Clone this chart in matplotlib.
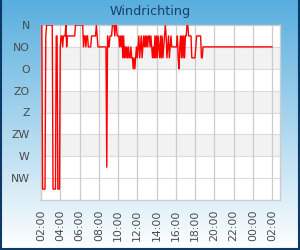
import matplotlib
matplotlib.use("Agg")
import matplotlib.pyplot as plt
import numpy as np
from matplotlib.lines import Line2D

# ---------------- data ----------------
TITLE = "Windrichting"
DIR_LABELS = ["N", "NO", "O", "ZO", "Z", "ZW", "W", "NW"]
DIR_DEGREES = [0, 45, 90, 135, 180, 225, 270, 315]
SHADED_BANDS = [(45, 90), (135, 180), (225, 270)]
TIME_TICKS = [2, 4, 6, 8, 10, 12, 14, 16, 18, 20, 22, 24, 26]
TIME_LABELS = ["02:00", "04:00", "06:00", "08:00", "10:00", "12:00", "14:00",
               "16:00", "18:00", "20:00", "22:00", "00:00", "02:00"]

START_HOUR = 2 + 5 / 60      # first reading 02:05
STEP_MIN = 5                 # readings every 5 minutes
wind_dir = [
    # 02:05 - 02:55
    0, 337.5, 337.5, 337.5, 337.5, 22.5, 0, 0, 0, 0, 0,
    # 03
    0, 0, 0, 337.5, 337.5, 337.5, 337.5, 22.5, 22.5, 337.5, 337.5, 337.5,
    # 04
    45, 22.5, 22.5, 45, 22.5, 22.5, 22.5, 0, 45, 22.5, 22.5, 22.5,
    # 05
    22.5, 22.5, 22.5, 22.5, 22.5, 22.5, 22.5, 0, 0, 0, 0, 0,
    # 06
    0, 0, 0, 0, 0, 45, 22.5, 22.5, 45, 22.5, 22.5, 45,
    # 07
    45, 45, 45, 22.5, 22.5, 22.5, 22.5, 22.5, 22.5, 0, 22.5, 45,
    # 08
    45, 45, 45, 45, 45, 45, 45, 45, 45, 45, 292.5, 22.5,
    # 09
    45, 45, 22.5, 22.5, 22.5, 0, 0, 0, 22.5, 0, 0, 22.5,
    # 10
    22.5, 22.5, 45, 22.5, 45, 22.5, 67.5, 22.5, 67.5, 45, 67.5, 45,
    # 11
    67.5, 45, 67.5, 67.5, 45, 67.5, 67.5, 90, 67.5, 90, 67.5, 45,
    # 12
    67.5, 45, 22.5, 67.5, 45, 22.5, 67.5, 45, 22.5, 45, 22.5, 45,
    # 13
    22.5, 45, 22.5, 22.5, 45, 22.5, 45, 67.5, 45, 67.5, 22.5, 67.5,
    # 14
    22.5, 67.5, 22.5, 45, 67.5, 22.5, 67.5, 22.5, 67.5, 45, 22.5, 0,
    # 15
    22.5, 67.5, 45, 22.5, 67.5, 45, 22.5, 45, 45, 45, 45, 45,
    # 16
    45, 45, 22.5, 67.5, 90, 45, 22.5, 67.5, 22.5, 67.5, 22.5, 67.5,
    # 17
    22.5, 22.5, 0, 0, 22.5, 22.5, 22.5, 22.5, 67.5, 67.5, 67.5, 67.5,
    # 18:00 - 18:50
    67.5, 45, 22.5, 22.5, 22.5, 22.5, 22.5, 22.5, 67.5, 67.5, 45,
]
END_HOUR = 26.0   # last reading 02:00 next day
END_VALUE = 45

# ---------------- figure ----------------
W, H = 300, 250
fig = plt.figure(figsize=(W / 100, H / 100), dpi=100)

# gradient background
bg = fig.add_axes([0, 0, 1, 1], zorder=-10)
top = np.array([88, 174, 222]) / 255
bot = np.array([255, 255, 255]) / 255
t = np.linspace(0, 1, 256)[:, None]
grad = top[None, :] * (1 - t) + bot[None, :] * t
bg.imshow(grad[:, None, :], aspect="auto", extent=[0, 1, 0, 1])
bg.set_axis_off()

# border
bc = "#0c3a68"
fig.add_artist(Line2D([0.0035, 0.0035], [0, 1], transform=fig.transFigure, color=bc, lw=1.5))
fig.add_artist(Line2D([0.9965, 0.9965], [0, 1], transform=fig.transFigure, color=bc, lw=1.5))
fig.add_artist(Line2D([0, 1], [0.004, 0.004], transform=fig.transFigure, color=bc, lw=1.5))

fig.text(0.5, 1 - 11.5 / H, TITLE, ha="center", va="center", fontsize=9.2,
         color="#17406b", family="DejaVu Sans")

ax = fig.add_axes([41 / W, 50 / H, 239 / W, 175 / H])
ax.set_facecolor("white")
for lo, hi in SHADED_BANDS:
    ax.axhspan(lo, hi, color="#f2f2f2", zorder=0, lw=0)

ax.set_ylim(360, 0)
ax.set_xlim(2.0, 26.83)
ax.set_yticks(DIR_DEGREES)
ax.set_yticklabels(DIR_LABELS)
ax.set_xticks(TIME_TICKS)
ax.set_xticklabels(TIME_LABELS, rotation=90)

for d in DIR_DEGREES[1:]:
    ax.axhline(d, color="#dcdcdc", lw=0.8, zorder=1)
for tt in TIME_TICKS:
    ax.axvline(tt, color="#cccccc", lw=0.9, zorder=1)

times = list(START_HOUR + np.arange(len(wind_dir)) * STEP_MIN / 60) + [END_HOUR]
vals = list(wind_dir) + [END_VALUE]
ax.plot(times, vals, color="#ff0000", lw=1.0, zorder=3)

ax.tick_params(axis="both", length=0, colors="#4a4a4a", labelsize=7.8)
ax.tick_params(axis="y", pad=8)
ax.tick_params(axis="x", pad=7)
for s in ax.spines.values():
    s.set_color("#cccccc")
    s.set_linewidth(1.0)

fig.savefig("out.png", dpi=100)
